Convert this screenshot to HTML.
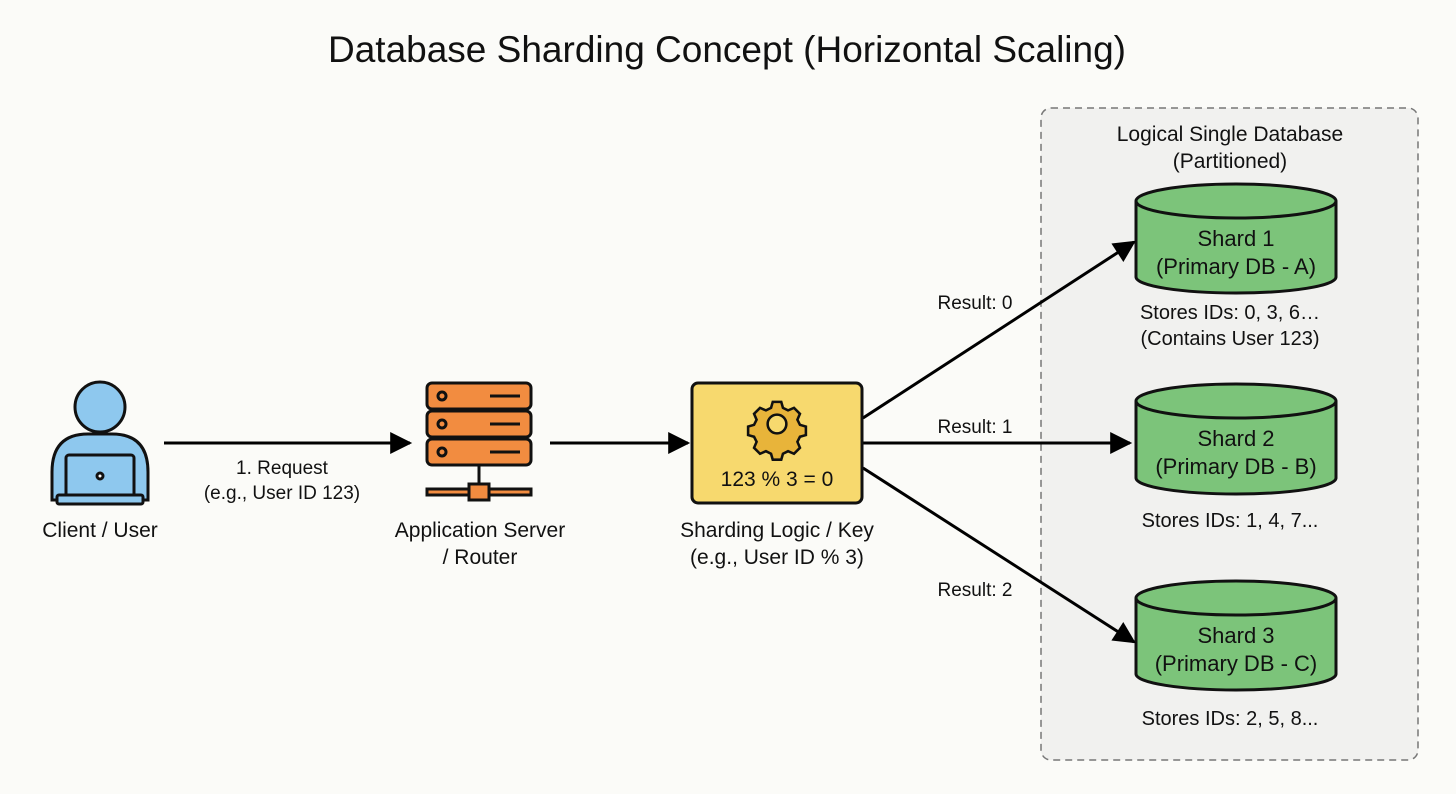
<!DOCTYPE html>
<html><head><style>
body{margin:0;background:#fbfbf8;}
svg{display:block;font-family:"Liberation Sans",sans-serif;}
</style></head><body>
<svg width="1456" height="794" viewBox="0 0 1456 794">
<defs>
<marker id="b" viewBox="0 0 10 10" refX="9" refY="5" markerWidth="24" markerHeight="22" orient="auto" markerUnits="userSpaceOnUse"><path d="M0,0L10,5L0,10z" fill="#000"/></marker></defs>
<rect width="1456" height="794" fill="#fbfbf8"/>
<text x="727" y="62" font-size="37" text-anchor="middle" fill="#111">Database Sharding Concept (Horizontal Scaling)</text>
<rect x="1041" y="108" width="377" height="652" rx="10" fill="#f1f1ef" stroke="#777" stroke-width="1.5" stroke-dasharray="7,5"/>
<text x="1230" y="141" font-size="21" text-anchor="middle" fill="#111">Logical Single Database</text>
<text x="1230" y="168" font-size="21" text-anchor="middle" fill="#111">(Partitioned)</text>
<g stroke="#111" stroke-width="3" fill="#7cc47a">
<path d="M1136,201 V277 A100,16 0 0 0 1336,277 V201"/><ellipse cx="1236" cy="201" rx="100" ry="17"/>
<path d="M1136,401 V478 A100,16 0 0 0 1336,478 V401"/><ellipse cx="1236" cy="401" rx="100" ry="17"/>
<path d="M1136,598 V674 A100,16 0 0 0 1336,674 V598"/><ellipse cx="1236" cy="598" rx="100" ry="17"/>
</g>
<g font-size="22" text-anchor="middle" fill="#111">
<text x="1236" y="246">Shard 1</text><text x="1236" y="274">(Primary DB - A)</text>
<text x="1236" y="446">Shard 2</text><text x="1236" y="474">(Primary DB - B)</text>
<text x="1236" y="643">Shard 3</text><text x="1236" y="671">(Primary DB - C)</text>
</g>
<g font-size="20" text-anchor="middle" fill="#111">
<text x="1230" y="319">Stores IDs: 0, 3, 6…</text><text x="1230" y="345">(Contains User 123)</text>
<text x="1230" y="527">Stores IDs: 1, 4, 7...</text>
<text x="1230" y="725">Stores IDs: 2, 5, 8...</text>
<text x="100" y="537" font-size="21">Client / User</text>
<text x="480" y="537" font-size="21">Application Server</text><text x="480" y="564" font-size="21">/ Router</text>
<text x="777" y="537" font-size="21">Sharding Logic / Key</text><text x="777" y="564" font-size="21">(e.g., User ID % 3)</text>
<text x="282" y="474" font-size="19">1. Request</text><text x="282" y="499" font-size="19">(e.g., User ID 123)</text>
</g>
<g font-size="19" text-anchor="middle" fill="#111">
<text x="975" y="309">Result: 0</text><text x="975" y="433">Result: 1</text><text x="975" y="596">Result: 2</text>
</g>
<g stroke="#000" stroke-width="3" marker-end="url(#b)">
<line x1="164" y1="443" x2="410" y2="443"/>
<line x1="550" y1="443" x2="688" y2="443"/>
<line x1="863" y1="418" x2="1134" y2="242"/>
<line x1="863" y1="443" x2="1130" y2="443"/>
<line x1="863" y1="468" x2="1134" y2="642"/>
</g>
<!-- person -->
<g stroke="#111" stroke-width="3" fill="#8ec8ee">
<circle cx="100" cy="407" r="25"/>
<path d="M52,500 V472 Q52,434 88,434 H112 Q148,434 148,472 V500 Z"/>
<rect x="66" y="455" width="68" height="42" rx="3"/>
<rect x="57" y="495" width="86" height="9" rx="2"/>
<circle cx="100" cy="476" r="3" fill="#fff"/>
</g>
<!-- server -->
<g stroke="#111" stroke-width="3" fill="#f28c40">
<rect x="427" y="383" width="104" height="26" rx="5"/>
<rect x="427" y="411" width="104" height="26" rx="5"/>
<rect x="427" y="439" width="104" height="26" rx="5"/>
<line x1="479" y1="465" x2="479" y2="487"/>
<rect x="427" y="489" width="104" height="6"/>
<rect x="469" y="484" width="20" height="16"/>
<circle cx="442" cy="396" r="4"/><circle cx="442" cy="424" r="4"/><circle cx="442" cy="452" r="4"/>
<line x1="490" y1="396" x2="520" y2="396"/><line x1="490" y1="424" x2="520" y2="424"/><line x1="490" y1="452" x2="520" y2="452"/>
</g>
<!-- logic box -->
<rect x="692" y="383" width="170" height="120" rx="6" fill="#f7d96e" stroke="#111" stroke-width="3"/>
<g transform="translate(777,424) scale(0.85)" stroke="#111" stroke-width="3" fill="#e8b43a">
<path d="M-5,-26h10l2,7l6,3l7,-3l7,7l-3,7l3,6l7,2v10l-7,2l-3,6l3,7l-7,7l-7,-3l-6,3l-2,7h-10l-2,-7l-6,-3l-7,3l-7,-7l3,-7l-3,-6l-7,-2v-10l7,-2l3,-6l-3,-7l7,-7l7,3l6,-3z"/>
<circle r="11" fill="#f7d96e"/>
</g>
<text x="777" y="486" font-size="21" text-anchor="middle" fill="#111">123 % 3 = 0</text>
</svg>
</body></html>
